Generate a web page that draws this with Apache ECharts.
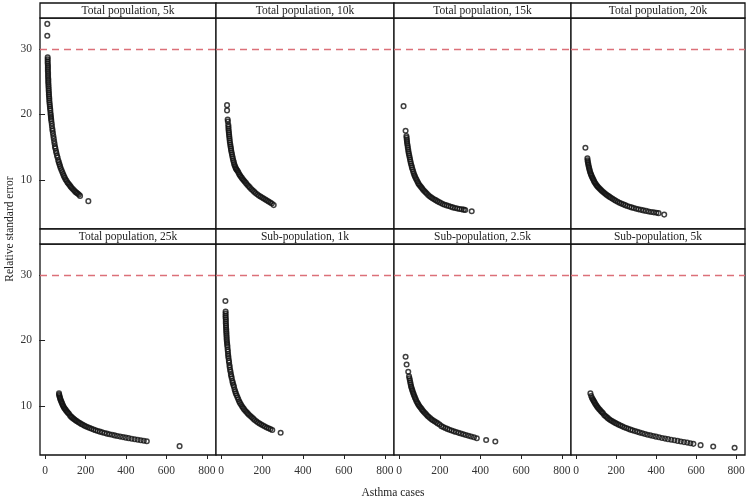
<!DOCTYPE html>
<html>
<head>
<meta charset="utf-8">
<script src="https://cdn.jsdelivr.net/npm/echarts@6/dist/echarts.min.js"></script>
<style>html,body{margin:0;padding:0;background:#fff}#c{width:750px;height:500px}</style>
</head>
<body>
<div id="c"></div>
<script>
// ---- data ----
const panelTitles = ["Total population, 5k","Total population, 10k","Total population, 15k","Total population, 20k",
  "Total population, 25k","Sub-population, 1k","Sub-population, 2.5k","Sub-population, 5k"];
const xTicks = [0,200,400,600,800];
const yTicks = [10,20,30];
const xTitle = "Asthma cases";
const yTitle = "Relative standard error";
const threshold = 30;

const tot5kCases = [11,11,13,13,13,13,14,14,14,14,15,15,15,16,16,16,17,17,18,18,19,19,20,21,21,22,23,24,25,26,27,28,29,30,31,33,34,36,37,39,41,43,45,47,49,51,54,56,59,62,65,68,71,74,77,81,85,89,93,97,101,106,111,116,121,126,131,137,143,149,155,161,167,173,214];
const tot5kRSE   = [33.8,32.0,28.7,28.4,28.1,27.8,27.5,27.2,26.9,26.6,26.3,26.0,25.7,25.4,25.1,24.8,24.5,24.2,23.9,23.6,23.3,23.0,22.7,22.4,22.1,21.8,21.5,21.2,20.9,20.6,20.2,19.9,19.6,19.3,19.0,18.6,18.2,17.8,17.5,17.1,16.7,16.3,15.9,15.5,15.1,14.8,14.4,14.1,13.7,13.4,13.0,12.7,12.4,12.1,11.8,11.5,11.2,10.9,10.6,10.35,10.1,9.85,9.6,9.4,9.2,9.0,8.8,8.6,8.4,8.2,8.05,7.9,7.75,7.55,6.75];

const tot10kCases = [29,29,32,33,35,36,36,37,38,39,40,41,42,43,45,46,48,49,51,53,55,57,59,62,64,67,70,73,76,80,84,88,92,96,101,106,111,116,122,128,134,140,147,154,161,168,176,184,192,200,208,216,224,232,240,248,257];
const tot10kRSE   = [21.4,20.6,19.2,18.9,18.4,18.1,17.8,17.5,17.2,16.9,16.6,16.3,16.0,15.7,15.4,15.1,14.8,14.5,14.2,13.9,13.6,13.3,13.0,12.7,12.4,12.15,11.9,11.7,11.55,11.4,11.15,10.9,10.7,10.5,10.3,10.1,9.9,9.7,9.5,9.25,9.05,8.85,8.6,8.4,8.2,8.0,7.8,7.6,7.45,7.3,7.15,7.0,6.85,6.7,6.55,6.4,6.15];

const tot15kCases = [22,32,36,37,38,39,40,42,43,45,46,48,50,52,54,56,58,61,63,66,69,72,75,78,82,86,90,94,98,103,108,113,118,124,130,136,143,150,157,164,172,180,188,197,206,215,224,234,244,254,264,275,286,297,308,318,325,357];
const tot15kRSE   = [21.25,17.5,16.7,16.4,16.1,15.8,15.5,15.2,14.9,14.6,14.3,14.0,13.7,13.4,13.1,12.8,12.5,12.2,11.9,11.6,11.3,11.0,10.75,10.5,10.25,10.0,9.75,9.5,9.3,9.1,8.9,8.7,8.5,8.3,8.1,7.9,7.7,7.5,7.35,7.2,7.05,6.9,6.75,6.6,6.45,6.3,6.2,6.1,6.0,5.9,5.8,5.7,5.62,5.55,5.5,5.45,5.4,5.2];

const tot20kCases = [47,57,58,59,61,62,64,66,68,70,73,75,78,81,84,87,90,94,98,102,106,110,115,120,125,130,136,142,148,154,161,168,175,183,191,199,208,217,226,236,246,256,267,278,289,301,313,325,337,350,363,376,389,402,413,441];
const tot20kRSE   = [14.9,13.3,13.0,12.75,12.5,12.25,12.0,11.75,11.5,11.25,11.0,10.8,10.6,10.4,10.2,10.0,9.8,9.6,9.4,9.2,9.05,8.9,8.75,8.6,8.45,8.3,8.15,8.0,7.85,7.7,7.55,7.4,7.25,7.1,6.95,6.8,6.65,6.5,6.38,6.26,6.14,6.02,5.9,5.8,5.7,5.6,5.5,5.42,5.34,5.26,5.18,5.1,5.04,4.98,4.92,4.7];

const tot25kCases = [69,70,71,73,75,77,80,82,85,88,91,94,98,102,106,110,114,119,124,129,134,140,146,152,158,165,172,179,187,195,203,212,221,230,240,250,260,271,282,294,306,318,331,344,357,371,385,399,413,428,443,458,473,488,503,665];
const tot25kRSE   = [11.9,11.7,11.5,11.3,11.1,10.9,10.7,10.5,10.3,10.1,9.9,9.72,9.55,9.38,9.2,9.05,8.9,8.75,8.5,8.35,8.2,8.05,7.9,7.77,7.64,7.5,7.37,7.24,7.1,6.97,6.85,6.73,6.61,6.5,6.38,6.27,6.17,6.06,5.96,5.86,5.76,5.67,5.58,5.49,5.4,5.31,5.23,5.15,5.07,4.99,4.91,4.83,4.76,4.68,4.6,3.85];

const sub1kCases = [21,22,22,22,22,23,23,23,24,24,25,25,26,26,27,27,28,29,30,31,32,33,34,35,36,38,39,41,42,44,46,48,50,52,55,57,60,63,66,69,72,76,80,84,88,92,97,102,107,112,118,124,130,136,143,150,157,164,172,180,188,196,205,214,223,232,241,250,291];
const sub1kRSE   = [26.0,24.4,24.1,23.8,23.5,23.2,22.9,22.6,22.3,22.0,21.7,21.4,21.1,20.8,20.5,20.2,19.9,19.6,19.3,19.0,18.6,18.3,17.9,17.6,17.3,16.9,16.6,16.2,15.9,15.5,15.2,14.8,14.5,14.2,13.8,13.5,13.2,12.9,12.5,12.2,11.9,11.6,11.3,11.0,10.7,10.45,10.2,9.95,9.7,9.5,9.25,9.05,8.85,8.65,8.45,8.25,8.05,7.85,7.65,7.45,7.3,7.15,7.0,6.85,6.7,6.57,6.45,6.32,5.9];

const sub2_5kCases = [32,37,45,49,51,53,55,57,59,61,64,66,69,72,75,78,82,85,89,93,97,101,106,111,116,121,127,133,139,145,152,159,166,174,182,190,199,208,217,227,237,247,258,269,280,292,304,316,328,341,354,368,382,428,473];
const sub2_5kRSE   = [17.5,16.3,15.2,14.5,14.2,13.9,13.6,13.3,13.0,12.75,12.5,12.25,12.0,11.75,11.5,11.25,11.0,10.75,10.5,10.3,10.1,9.9,9.7,9.5,9.3,9.1,8.9,8.7,8.5,8.32,8.14,7.96,7.8,7.64,7.48,7.32,7.16,6.9,6.76,6.62,6.48,6.35,6.23,6.11,6.0,5.88,5.77,5.66,5.55,5.44,5.33,5.2,5.05,4.8,4.55];

const sub5kCases = [72,76,80,84,87,90,94,98,102,106,110,115,120,125,130,135,141,147,153,159,166,173,180,188,196,204,213,222,231,241,251,261,272,283,295,307,319,332,345,358,372,386,400,415,430,445,460,476,492,508,524,540,556,572,587,623,686,793];
const sub5kRSE   = [11.9,11.5,11.2,11.0,10.8,10.65,10.45,10.25,10.05,9.87,9.7,9.52,9.35,9.18,9.02,8.87,8.6,8.45,8.3,8.12,7.95,7.8,7.67,7.53,7.4,7.27,7.13,7.0,6.87,6.74,6.61,6.49,6.37,6.26,6.15,6.03,5.92,5.81,5.7,5.6,5.5,5.4,5.3,5.2,5.1,5.0,4.92,4.83,4.74,4.65,4.56,4.47,4.39,4.3,4.2,4.0,3.8,3.6];

const panelCases = [tot5kCases,tot10kCases,tot15kCases,tot20kCases,tot25kCases,sub1kCases,sub2_5kCases,sub5kCases];
const panelRSE   = [tot5kRSE,tot10kRSE,tot15kRSE,tot20kRSE,tot25kRSE,sub1kRSE,sub2_5kRSE,sub5kRSE];

// ---- layout / style ----
const FONT = '"Liberation Serif", "Times New Roman", serif';
const REF_RED = '#dc7079';
const colLeft = [40,216,394,571];
const colWidth = [176,178,177,174];
const rowTop = [18,244];
const plotH = 211;
const stripH = 15;

const grids=[], xAxes=[], yAxes=[], series=[], graphics=[];
for (let i=0;i<8;i++){
  const row = i<4?0:1, col = i%4;
  const left = colLeft[col], top = rowTop[row], w = colWidth[col];
  grids.push({left:left, top:top, width:w, height:plotH, show:true, borderColor:'#111', borderWidth:1.3, backgroundColor:'#fff'});
  xAxes.push({type:'value', gridIndex:i, min:-25, max:845, splitLine:{show:false},
    axisLine:{show:false},
    axisTick:{show:row===1, customValues:xTicks, length:4, lineStyle:{color:'#222'}},
    axisLabel:{show:row===1, customValues:xTicks, margin:10, fontFamily:FONT, fontSize:11.5, color:'#333'}});
  yAxes.push({type:'value', gridIndex:i, min:2.5, max:34.7, splitLine:{show:false},
    axisLine:{show:false},
    axisTick:{show:col===0, customValues:yTicks, length:6, lineStyle:{color:'#222'}},
    axisLabel:{show:col===0, customValues:yTicks, margin:8, fontFamily:FONT, fontSize:11.5, color:'#333'}});
  series.push({type:'scatter', xAxisIndex:i, yAxisIndex:i,
    data: panelCases[i].map((x,k)=>[x, panelRSE[i][k]]),
    symbol:'circle', symbolSize:4.6,
    itemStyle:{color:'rgba(0,0,0,0)', borderColor:'#111', borderWidth:1.5},
    markLine:{silent:true, symbol:'none', animation:false, label:{show:false},
      lineStyle:{color:REF_RED, type:[7,5], width:1.4},
      data:[{yAxis:threshold}]}});
  graphics.push({type:'rect', shape:{x:left, y:top-stripH, width:w, height:stripH},
    style:{fill:'#fff', stroke:'#111', lineWidth:1.3}});
  graphics.push({type:'text', x:left+w/2, y:top-stripH/2,
    style:{text:panelTitles[i], align:'center', verticalAlign:'middle', font:'11.5px '+FONT, fill:'#222'}});
}
graphics.push({type:'text', x:393, y:493, style:{text:xTitle, align:'center', verticalAlign:'middle', font:'11.5px '+FONT, fill:'#222'}});
graphics.push({type:'text', x:10, y:229, rotation:Math.PI/2, style:{text:yTitle, align:'center', verticalAlign:'middle', font:'11.5px '+FONT, fill:'#222'}});

const chart = echarts.init(document.getElementById('c'), null, {renderer:'canvas'});
chart.setOption({animation:false, backgroundColor:'#fff', grid:grids, xAxis:xAxes, yAxis:yAxes, series:series, graphic:graphics});
</script>
</body>
</html>
